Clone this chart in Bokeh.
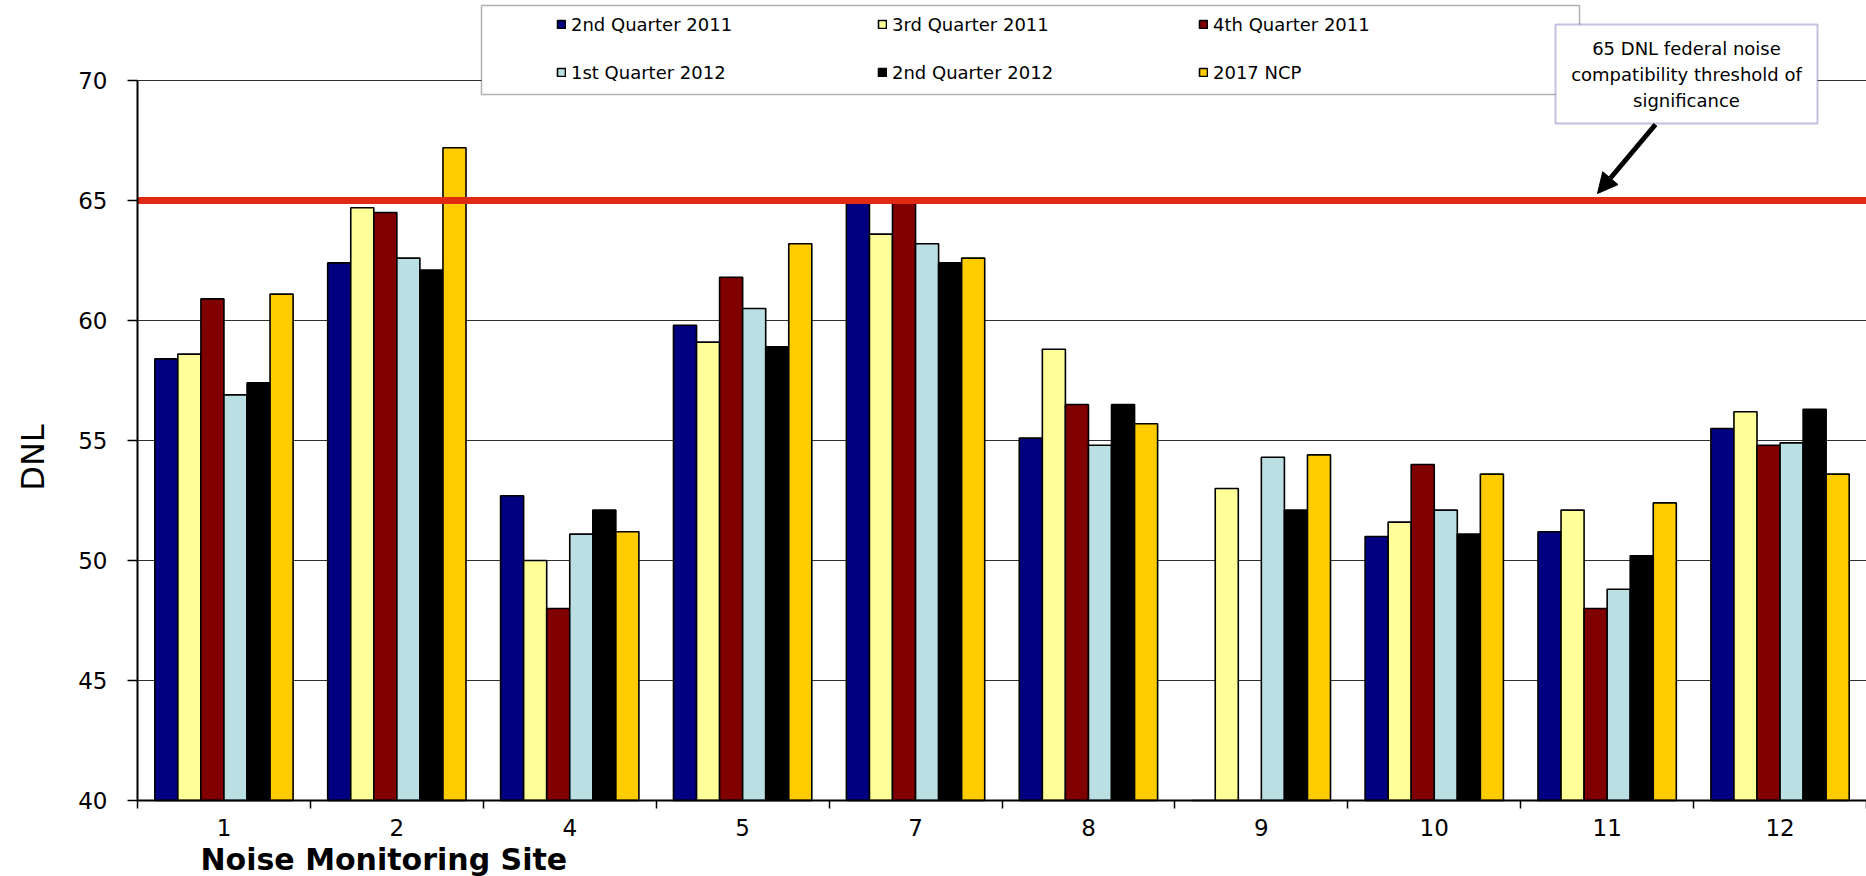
import numpy as np
from bokeh.plotting import figure
from bokeh.models import (ColumnDataSource, FixedTicker, Range1d, Label, Arrow,
                          NormalHead, BoxAnnotation, Legend, LegendItem)
from bokeh.embed import file_html
from bokeh.resources import INLINE

# ---- data -------------------------------------------------------------
sites = ["1", "2", "4", "5", "7", "8", "9", "10", "11", "12"]
series_names = ["2nd Quarter 2011", "3rd Quarter 2011", "4th Quarter 2011",
                "1st Quarter 2012", "2nd Quarter 2012", "2017 NCP"]
q2_2011 = [58.4, 62.4, 52.7, 59.8, 65.0, 55.1, 0.0, 51.0, 51.2, 55.5]
q3_2011 = [58.6, 64.7, 50.0, 59.1, 63.6, 58.8, 53.0, 51.6, 52.1, 56.2]
q4_2011 = [60.9, 64.5, 48.0, 61.8, 65.0, 56.5, 0.0, 54.0, 48.0, 54.8]
q1_2012 = [56.9, 62.6, 51.1, 60.5, 63.2, 54.8, 54.3, 52.1, 48.8, 54.9]
q2_2012 = [57.4, 62.1, 52.1, 58.9, 62.4, 56.5, 52.1, 51.1, 50.2, 56.3]
ncp_2017 = [61.1, 67.2, 51.2, 63.2, 62.6, 55.7, 54.4, 53.6, 52.4, 53.6]
y_ticks = [40, 45, 50, 55, 60, 65, 70]
threshold = 65
threshold_note = "65 DNL federal noise\ncompatibility threshold of\nsignificance"

series = [q2_2011, q3_2011, q4_2011, q1_2012, q2_2012, ncp_2017]
colors = ["#000080", "#FFFF99", "#800000", "#BBE0E3", "#000000", "#FFCC00"]

# ---- canvas geometry (pixels) -------------------------------------------
# The plotting area is the whole canvas; the axes are pinned at x=0 / y=40 so
# that the legend, callout and axis titles can sit around the bar area.
W, H = 1866, 876
AX_L, AX_T, AX_B = 137, 80, 800          # pixel edges of the bar area
NCAT = len(sites)
Y0, Y1 = y_ticks[0], y_ticks[-1]
PX_PER_X = (W - AX_L) / NCAT
PX_PER_Y = (AX_B - AX_T) / (Y1 - Y0)


def px_x(px):
    """canvas x pixel -> data x"""
    return (px - AX_L) / PX_PER_X


def px_y(py):
    """canvas y pixel -> data y"""
    return Y1 - (py - AX_T) / PX_PER_Y


p = figure(width=W, height=H, output_backend="svg", toolbar_location=None,
           x_range=Range1d(px_x(0), px_x(W)), y_range=Range1d(px_y(H), px_y(0)),
           min_border_left=0, min_border_right=0,
           min_border_top=0, min_border_bottom=0,
           background_fill_color="white", border_fill_color="white")
p.outline_line_color = None
p.xgrid.visible = False
p.ygrid.visible = False

# ---- horizontal grid lines across the bar area ------------------------
grid_y = y_ticks[1:]
p.segment(x0=[0] * len(grid_y), x1=[NCAT] * len(grid_y), y0=grid_y, y1=grid_y,
          line_color="#303030", line_width=1)

# ---- grouped bars (gap = 1.5 bar widths between groups) ----------------
nser = len(series)
bar_w = 1.0 / (nser + 1.5)
idx = np.arange(NCAT)
renderers = []
for j, (vals, col) in enumerate(zip(series, colors)):
    v = np.asarray(vals, dtype=float)
    src = ColumnDataSource(dict(
        x=idx + 0.5 + (j - (nser - 1) / 2) * bar_w,
        top=np.maximum(v, Y0),
        site=sites,
    ))
    r = p.vbar(x="x", top="top", bottom=Y0, width=bar_w, source=src,
               fill_color=col, line_color="black", line_width=1.6)
    renderers.append(r)

# ---- threshold line ---------------------------------------------------
p.segment(x0=[0], x1=[NCAT], y0=[threshold], y1=[threshold],
          line_color="#E02A12", line_width=7)

# ---- axes -------------------------------------------------------------
p.yaxis.fixed_location = 0
p.yaxis.bounds = (Y0, Y1)
p.yaxis.ticker = FixedTicker(ticks=y_ticks)
p.yaxis.major_label_text_font = "DejaVu Sans"
p.yaxis.major_label_text_font_size = "23px"
p.yaxis.major_label_text_color = "black"
p.yaxis.major_label_standoff = 20
p.yaxis.major_tick_out = 10
p.yaxis.major_tick_in = 0
p.yaxis.minor_tick_out = 0
p.yaxis.minor_tick_in = 0
p.yaxis.axis_line_width = 2
p.yaxis.axis_line_color = "black"
p.yaxis.major_tick_line_color = "black"
p.yaxis.major_tick_line_width = 1.5

centers = [i + 0.5 for i in range(NCAT)]
p.xaxis.fixed_location = Y0
p.xaxis.bounds = (0, NCAT)
p.xaxis.ticker = FixedTicker(ticks=centers, minor_ticks=list(range(NCAT + 1)))
p.xaxis.major_label_overrides = {c: s for c, s in zip(centers, sites)}
p.xaxis.major_label_text_font = "DejaVu Sans"
p.xaxis.major_label_text_font_size = "23px"
p.xaxis.major_label_text_color = "black"
p.xaxis.major_label_standoff = 10
p.xaxis.major_tick_out = 0
p.xaxis.major_tick_in = 0
p.xaxis.minor_tick_out = 8
p.xaxis.minor_tick_in = 0
p.xaxis.minor_tick_line_color = "black"
p.xaxis.minor_tick_line_width = 1.5
p.xaxis.axis_line_width = 2
p.xaxis.axis_line_color = "black"

# axis titles
p.add_layout(Label(x=px_x(32), y=px_y(457), text="DNL", angle=np.pi / 2,
                   text_font="DejaVu Sans", text_font_size="32px",
                   text_color="black", text_align="center",
                   text_baseline="middle"))
p.add_layout(Label(x=px_x(200), y=px_y(859), text="Noise Monitoring Site",
                   text_font="DejaVu Sans", text_font_size="30px",
                   text_font_style="bold", text_color="black",
                   text_align="left", text_baseline="middle"))

# ---- legend box and entries -------------------------------------------
p.add_layout(BoxAnnotation(left=px_x(481), right=px_x(1579),
                           top=px_y(5), bottom=px_y(94),
                           fill_color="white", fill_alpha=1.0,
                           line_color="black", line_width=1.5,
                           level="annotation"))

items = [LegendItem(label=n, renderers=[r]) for n, r in zip(series_names, renderers)]
legend = Legend(items=items, orientation="horizontal", ncols=3,
                location=(556, H - 84),
                glyph_width=10, glyph_height=10, label_standoff=5,
                label_width=282, label_height=24, spacing=24,
                padding=0, margin=0,
                border_line_alpha=0, background_fill_alpha=0,
                label_text_font="DejaVu Sans", label_text_font_size="18px",
                label_text_color="black")
p.add_layout(legend)

# ---- threshold callout --------------------------------------------------
p.add_layout(BoxAnnotation(left=px_x(1555), right=px_x(1817),
                           top=px_y(24), bottom=px_y(123),
                           fill_color="white", fill_alpha=1.0,
                           line_color="#333399", line_width=2,
                           level="annotation"))
p.add_layout(Label(x=px_x(1686), y=px_y(74), text=threshold_note,
                   text_font="DejaVu Sans", text_font_size="18px",
                   text_color="black", text_align="center",
                   text_baseline="middle", text_line_height=1.22))
p.add_layout(Arrow(end=NormalHead(size=20, fill_color="black", line_color="black"),
                   x_start=px_x(1655), y_start=px_y(124),
                   x_end=px_x(1597), y_end=px_y(193),
                   line_color="black", line_width=5))

open("out.html", "w").write(file_html(p, INLINE))
